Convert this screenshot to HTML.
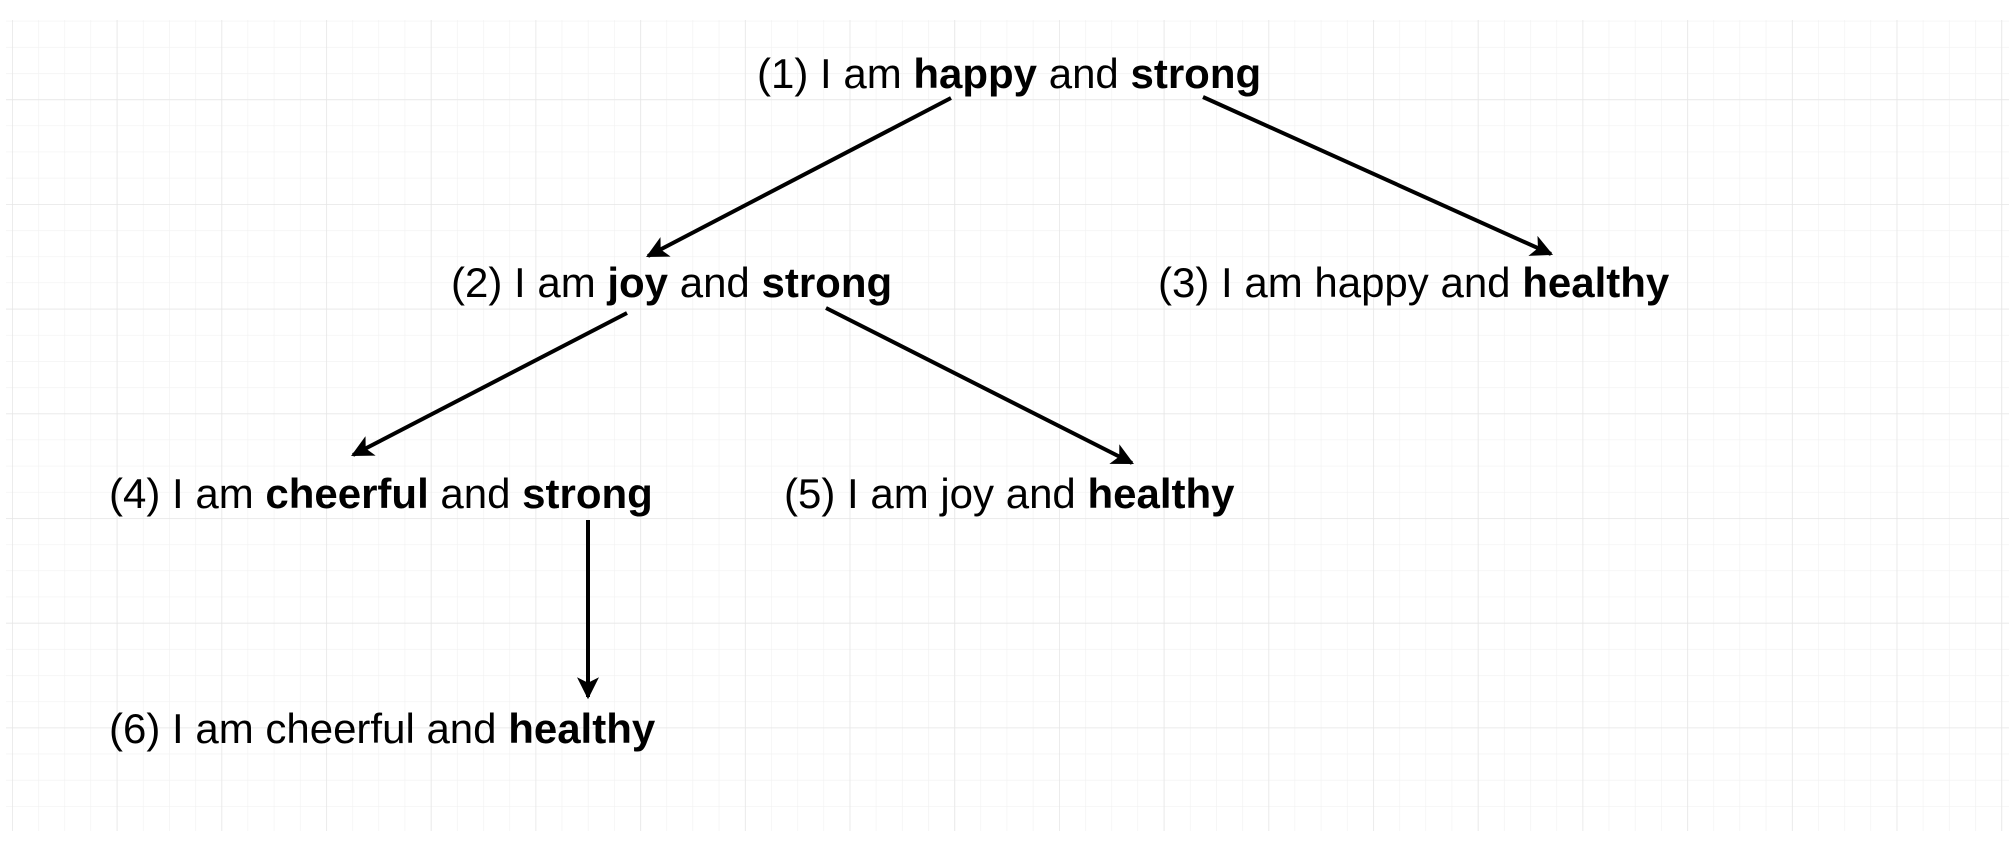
<!DOCTYPE html>
<html><head><meta charset="utf-8"><style>
html,body{margin:0;padding:0;background:#fff;}
svg{display:block;}
text{font-family:"Liberation Sans",Arial,sans-serif;font-size:42px;fill:#000;}
</style></head><body>
<svg width="2012" height="862" viewBox="0 0 2012 862" xmlns="http://www.w3.org/2000/svg">
<defs>
<pattern id="minor" x="116.7" y="99.3" width="26.175" height="26.175" patternUnits="userSpaceOnUse">
<path d="M0 0H26.175M0 0V26.175" stroke="#f1f1f1" stroke-width="1.2" fill="none"/>
</pattern>
<pattern id="major" x="116.7" y="99.3" width="104.7" height="104.7" patternUnits="userSpaceOnUse">
<path d="M0 0H104.7M0 0V104.7" stroke="#e6e6e6" stroke-width="1.5" fill="none"/>
</pattern>
<marker id="ah" viewBox="0 0 10 10" refX="9" refY="5" markerWidth="27" markerHeight="22" markerUnits="userSpaceOnUse" orient="auto">
<path d="M0 0L10 5L0 10L2.5 5Z" fill="#000"/>
</marker>
</defs>
<rect x="6" y="20" width="2003" height="811" fill="url(#minor)"/>
<rect x="6" y="20" width="2003" height="811" fill="url(#major)"/>
<g stroke="#000" stroke-width="4" fill="none">
<line x1="951" y1="98" x2="648" y2="256" marker-end="url(#ah)"/>
<line x1="1203" y1="97" x2="1551" y2="254" marker-end="url(#ah)"/>
<line x1="627" y1="313" x2="353" y2="455" marker-end="url(#ah)"/>
<line x1="826" y1="308" x2="1132" y2="463" marker-end="url(#ah)"/>
<line x1="588" y1="520" x2="588" y2="697" marker-end="url(#ah)"/>
</g>
<text x="757" y="88">(1) I am <tspan font-weight="bold">happy</tspan> and <tspan font-weight="bold">strong</tspan></text>
<text x="451" y="297">(2) I am <tspan font-weight="bold">joy</tspan> and <tspan font-weight="bold">strong</tspan></text>
<text x="1158" y="297">(3) I am happy and <tspan font-weight="bold">healthy</tspan></text>
<text x="109" y="508">(4) I am <tspan font-weight="bold">cheerful</tspan> and <tspan font-weight="bold">strong</tspan></text>
<text x="784" y="508">(5) I am joy and <tspan font-weight="bold">healthy</tspan></text>
<text x="109" y="743">(6) I am cheerful and <tspan font-weight="bold">healthy</tspan></text>
</svg>
</body></html>
